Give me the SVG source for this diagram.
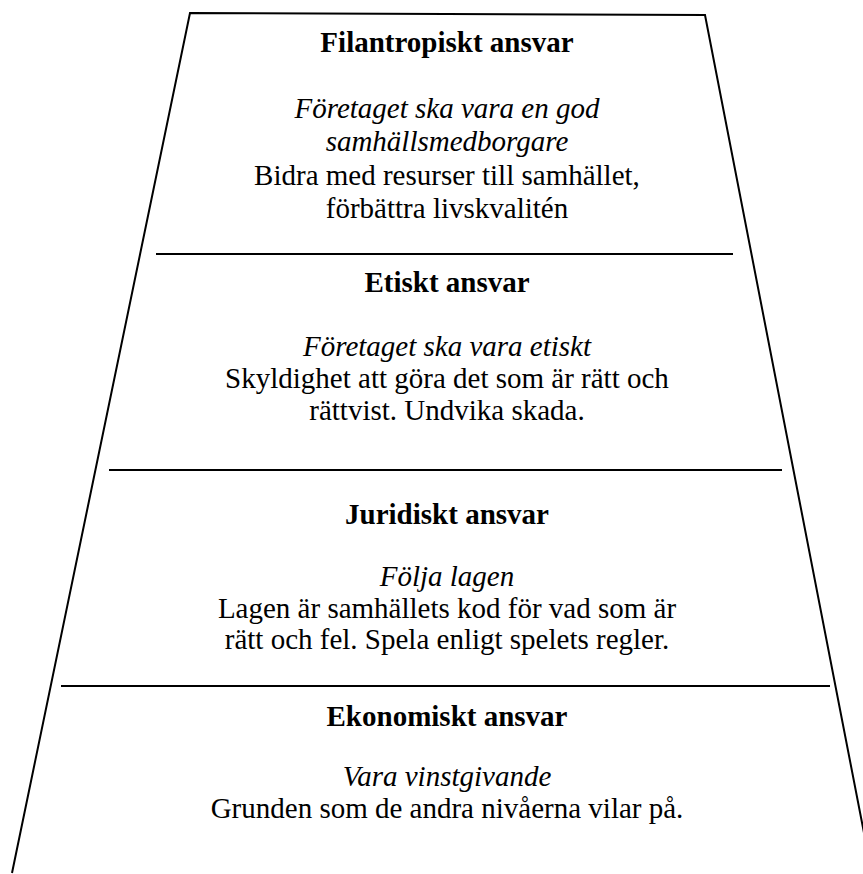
<svg xmlns="http://www.w3.org/2000/svg" width="863" height="874" viewBox="0 0 863 874">
<style>
.edge{stroke:#000;stroke-width:2;fill:none}
text{font-family:"Liberation Serif","Times New Roman",serif;font-size:29px;fill:#000;text-anchor:middle}
.t{font-weight:bold}
.i{font-style:italic}
</style>
<rect width="863" height="874" fill="#fff"/>
<g id="outline">
<polyline class="edge" points="12,873 190,13 705,15 872,874"/>
</g>
<g id="dividers">
<line class="edge" x1="156" y1="254" x2="733" y2="254"/>
<line class="edge" x1="109" y1="470" x2="782" y2="470"/>
<line class="edge" x1="61" y1="686" x2="830" y2="686"/>
</g>
<g id="filantropiskt">
<text class="t" x="447" y="52">Filantropiskt ansvar</text>
<text class="i" x="447" y="118">Företaget ska vara en god</text>
<text class="i" x="447" y="151">samhällsmedborgare</text>
<text x="447" y="185">Bidra med resurser till samhället,</text>
<text x="447" y="218">förbättra livskvalitén</text>
</g>
<g id="etiskt">
<text class="t" x="447" y="292">Etiskt ansvar</text>
<text class="i" x="447" y="356">Företaget ska vara etiskt</text>
<text x="447" y="388">Skyldighet att göra det som är rätt och</text>
<text x="447" y="420">rättvist. Undvika skada.</text>
</g>
<g id="juridiskt">
<text class="t" x="447" y="524">Juridiskt ansvar</text>
<text class="i" x="447" y="586">Följa lagen</text>
<text x="447" y="618">Lagen är samhällets kod för vad som är</text>
<text x="447" y="649">rätt och fel. Spela enligt spelets regler.</text>
</g>
<g id="ekonomiskt">
<text class="t" x="447" y="726">Ekonomiskt ansvar</text>
<text class="i" x="447" y="786">Vara vinstgivande</text>
<text x="447" y="818">Grunden som de andra nivåerna vilar på.</text>
</g>
</svg>
